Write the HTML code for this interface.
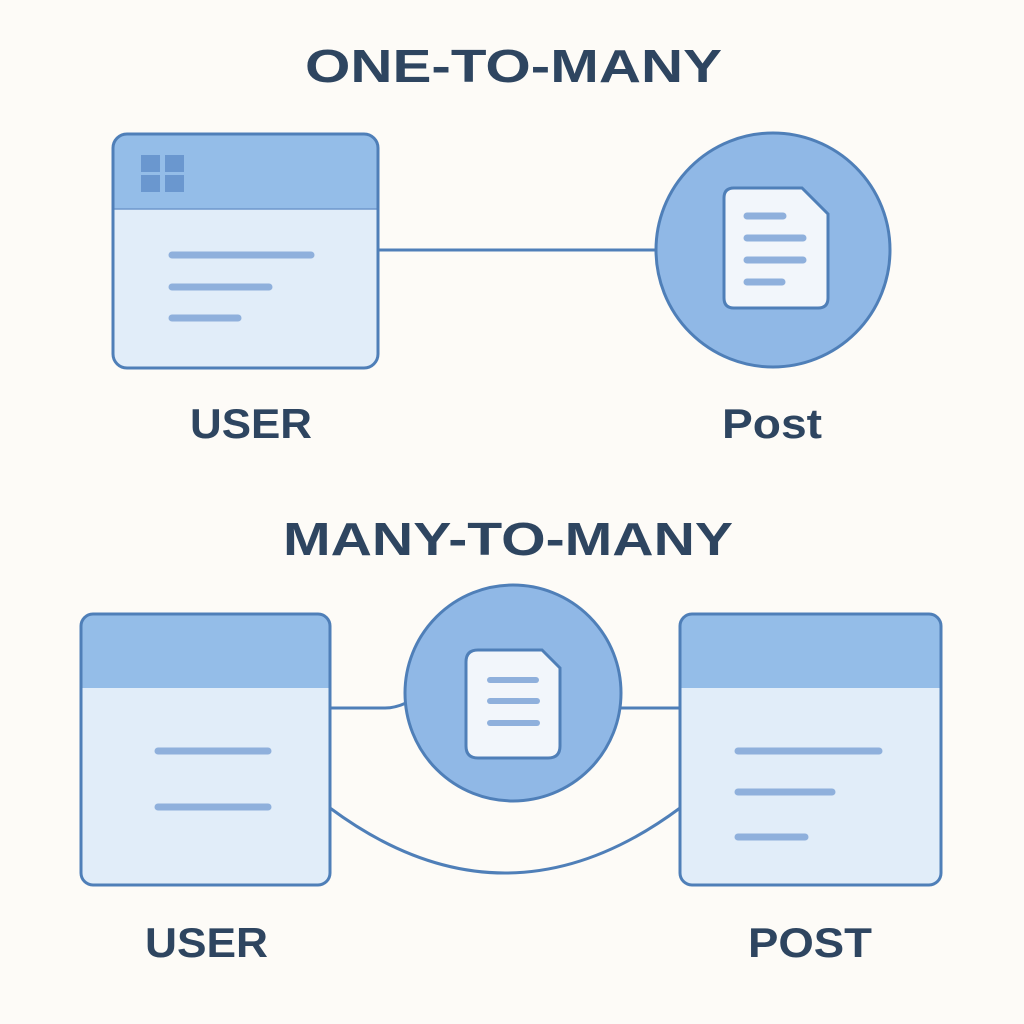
<!DOCTYPE html>
<html><head><meta charset="utf-8"><style>
html,body{margin:0;padding:0;background:#fdfbf7;}
svg{display:block}
text{font-family:"Liberation Sans",sans-serif;fill:#2e4560;font-weight:bold;}
</style></head><body>
<svg width="1024" height="1024" viewBox="0 0 1024 1024" xmlns="http://www.w3.org/2000/svg">
<rect width="1024" height="1024" fill="#fdfbf7"/>
<g stroke="#4f7fb8" stroke-width="3" fill="none">
<line x1="378" y1="250" x2="657" y2="250"/>
<path d="M330 708 L385 708 Q395 708 406 703"/>
<line x1="620" y1="708" x2="680" y2="708"/>
<path d="M330 808 Q505 938 680 808"/>
</g>
<text x="305" y="82" font-size="46" textLength="417" lengthAdjust="spacingAndGlyphs">ONE-TO-MANY</text>
<text x="283" y="555" font-size="46" textLength="450" lengthAdjust="spacingAndGlyphs">MANY-TO-MANY</text>
<text x="190" y="438" font-size="42" textLength="122" lengthAdjust="spacingAndGlyphs">USER</text>
<text x="722" y="438" font-size="42" textLength="100" lengthAdjust="spacingAndGlyphs">Post</text>
<text x="145" y="957" font-size="42" textLength="123" lengthAdjust="spacingAndGlyphs">USER</text>
<text x="748" y="957" font-size="42" textLength="124" lengthAdjust="spacingAndGlyphs">POST</text>
<!-- top user box -->
<clipPath id="c1"><rect x="113" y="134" width="265" height="234" rx="14"/></clipPath>
<g clip-path="url(#c1)"><rect x="113" y="134" width="265" height="234" fill="#e1edf9"/><rect x="113" y="134" width="265" height="75" fill="#94bde8"/></g>
<line x1="113" y1="209" x2="378" y2="209" stroke="#6f98cc" stroke-width="1.5"/>
<rect x="113" y="134" width="265" height="234" rx="14" fill="none" stroke="#4f7fb8" stroke-width="3"/>
<g fill="#6a97cf"><rect x="141" y="155" width="19" height="17"/><rect x="165" y="155" width="19" height="17"/><rect x="141" y="175" width="19" height="17"/><rect x="165" y="175" width="19" height="17"/></g>
<g stroke="#8fb0dc" stroke-width="7" stroke-linecap="round"><line x1="172" y1="255" x2="311" y2="255"/><line x1="172" y1="287" x2="269" y2="287"/><line x1="172" y1="318" x2="238" y2="318"/></g>
<!-- top circle -->
<circle cx="773" cy="250" r="117" fill="#90b8e6" stroke="#4f7fb8" stroke-width="3"/>
<path d="M734 188 H802 L828 214 V298 Q828 308 818 308 H734 Q724 308 724 298 V198 Q724 188 734 188 Z" fill="#f2f6fb" stroke="#4f7fb8" stroke-width="3"/>
<g stroke="#8fb0dc" stroke-width="7" stroke-linecap="round"><line x1="747" y1="216" x2="783" y2="216"/><line x1="747" y1="238" x2="803" y2="238"/><line x1="747" y1="260" x2="803" y2="260"/><line x1="747" y1="282" x2="782" y2="282"/></g>
<!-- bottom left box -->
<clipPath id="c2"><rect x="81" y="614" width="249" height="271" rx="12"/></clipPath>
<g clip-path="url(#c2)"><rect x="81" y="614" width="249" height="271" fill="#e1edf9"/><rect x="81" y="614" width="249" height="74" fill="#94bde8"/></g>
<rect x="81" y="614" width="249" height="271" rx="12" fill="none" stroke="#4f7fb8" stroke-width="3"/>
<g stroke="#8fb0dc" stroke-width="7" stroke-linecap="round"><line x1="158" y1="751" x2="268" y2="751"/><line x1="158" y1="807" x2="268" y2="807"/></g>
<!-- bottom circle -->
<circle cx="513" cy="693" r="108" fill="#90b8e6" stroke="#4f7fb8" stroke-width="3"/>
<path d="M478 650 H542 L560 668 V746 Q560 758 548 758 H478 Q466 758 466 746 V662 Q466 650 478 650 Z" fill="#f2f6fb" stroke="#4f7fb8" stroke-width="3"/>
<g stroke="#8fb0dc" stroke-width="6" stroke-linecap="round"><line x1="490" y1="680" x2="536" y2="680"/><line x1="490" y1="701" x2="537" y2="701"/><line x1="490" y1="723" x2="537" y2="723"/></g>
<!-- bottom right box -->
<clipPath id="c3"><rect x="680" y="614" width="261" height="271" rx="12"/></clipPath>
<g clip-path="url(#c3)"><rect x="680" y="614" width="261" height="271" fill="#e1edf9"/><rect x="680" y="614" width="261" height="74" fill="#94bde8"/></g>
<rect x="680" y="614" width="261" height="271" rx="12" fill="none" stroke="#4f7fb8" stroke-width="3"/>
<g stroke="#8fb0dc" stroke-width="7" stroke-linecap="round"><line x1="738" y1="751" x2="879" y2="751"/><line x1="738" y1="792" x2="832" y2="792"/><line x1="738" y1="837" x2="805" y2="837"/></g>
</svg>
</body></html>
